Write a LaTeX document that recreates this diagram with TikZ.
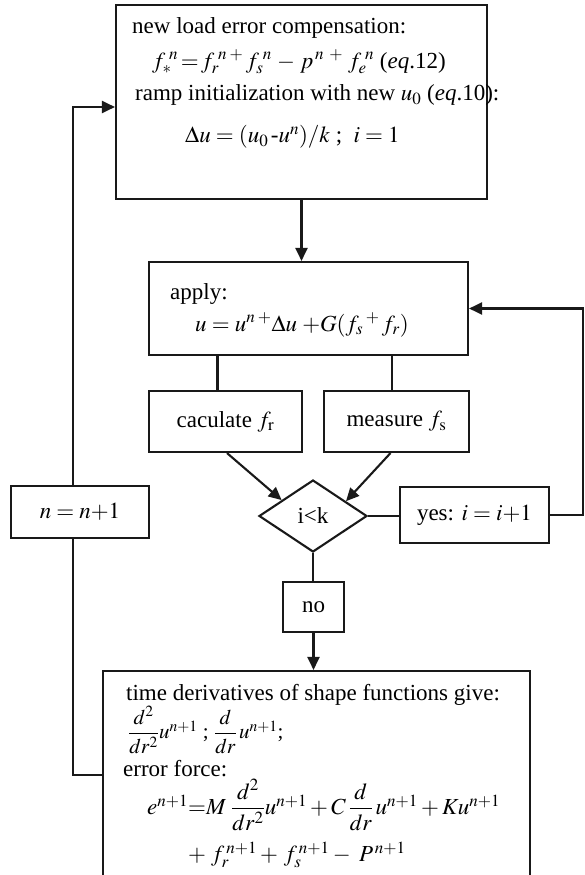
\documentclass[tikz,border=0pt]{standalone}
\usepackage{amsmath}
\usepackage{mathptmx}
\usepackage[no-math]{fontspec}
\setmainfont{Liberation Serif}
\usetikzlibrary{shapes.geometric,arrows.meta,calc}
\begin{document}
\begin{tikzpicture}[x=1pt,y=-1pt,
  box/.style={draw=black!90, line width=2.1pt, inner sep=0pt, font=\fontsize{23}{27}\selectfont},
  conn/.style={draw=black!90, line width=2.1pt},
  arr/.style={conn, -{Triangle[length=13pt,width=12pt]}},
  txt/.style={inner sep=0pt, anchor=west, font=\fontsize{23}{27}\selectfont}]
\useasboundingbox (0,0) rectangle (584,875);
\clip (0,0) rectangle (584,875);
% boxes
\node[box, minimum width=371pt, minimum height=194pt] (top) at (301.5,102) {};
\node[box, minimum width=319pt, minimum height=93pt] (apply) at (308.5,308.5) {};
\node[box, minimum width=153pt, minimum height=61pt] (cal) at (225.5,421.5) {caculate $f_{\mathrm{r}}$};
\node[box, minimum width=145pt, minimum height=61pt] (meas) at (396.5,421.5) {measure $f_{\mathrm{s}}$};
\node[box, diamond, minimum width=108pt, minimum height=72pt] (d) at (313,516) {i<k};
\node[box, minimum width=149pt, minimum height=56pt] (yes) at (474.5,515) {yes: $i = i{+}1$};
\node[box, minimum width=138pt, minimum height=52pt] (nbox) at (80,512) {$n = n{+}1$};
\node[box, minimum width=61pt, minimum height=50pt] (no) at (313.5,607) {no};
\node[box, minimum width=427pt, minimum height=229pt] (bot) at (316.5,785.5) {};
% texts of top box
\node[txt] (t1) at (132,28) {new load error compensation:};
\node[txt] (t2) at (152,62) {$f_*^{\;n} \,{=}\, f_r^{\;n}\,{}^{+}\,f_s^{\;n}\;{-}\;p^{\,n}\;{}^{+}\;f_e^{\;n}$ (\textit{eq}.12)};
\node[txt] (t3) at (135,95) {ramp initialization with new $u_0$ (\textit{eq}.10):};
\node[txt] (t4) at (185,137) {$\Delta u = (u_0\,\text{-}u^n)/k$ ;\ \ $i = 1$};
% texts of apply box
\node[txt] (a1) at (170,294) {apply:};
\node[txt] (a2) at (195,325) {$u = u^n\,{}^{+}\Delta u\; {+}G(f_s\,{}^{+}\,f_r)$};
% texts of bottom box
\node[txt] (b1) at (126,695) {time derivatives of shape functions give:};
\node[txt, font=\fontsize{21}{25}\selectfont] (b2) at (128,730) {$\dfrac{d^2}{dr^2}u^{n+1}$ ; $\dfrac{d}{dr}\,u^{n+1}$;};
\node[txt] (b3) at (123,769) {error force:};
\node[txt] (b4) at (147,805) {$e^{n+1}{=}M\;\dfrac{d^2}{dr^2}u^{n+1}+C\,\dfrac{d}{dr}\,u^{n+1}+Ku^{n+1}$};
\node[txt] (b5) at (188,855) {$+\;f_r^{\,n+1}+\,f_s^{\,n+1}-\;P^{\,n+1}$};
% connectors
\draw[arr] (top.south) -- (top.south |- apply.north);
\draw[conn] ([xshift=-8pt]cal.north) -- ([xshift=-8pt]cal.north |- apply.south);
\draw[conn] ([xshift=-4.5pt]meas.north) -- ([xshift=-4.5pt]meas.north |- apply.south);
\draw[arr] ([xshift=1.5pt]cal.south) -- ($(d.west)!0.43!(d.north)$);
\draw[arr] ([xshift=-6pt]meas.south) -- ($(d.north)!0.6!(d.east)$);
\draw[conn] (d.east) -- (d.east -| yes.west);
\coordinate (rr) at (583,515);
\draw[arr] (yes.east) -- (rr) |- (apply.east);
\draw[conn] (d.south) -- (d.south |- no.north);
\draw[arr] (no.south) -- (no.south |- bot.north);
\coordinate (lb) at (73,775);
\coordinate (lt) at (73,107);
\draw[conn] (lb -| bot.west) -- (lb) -- (lb |- nbox.south);
\draw[arr] (lb |- nbox.north) -- (lt) -- (lt -| top.west);
\end{tikzpicture}
\end{document}
